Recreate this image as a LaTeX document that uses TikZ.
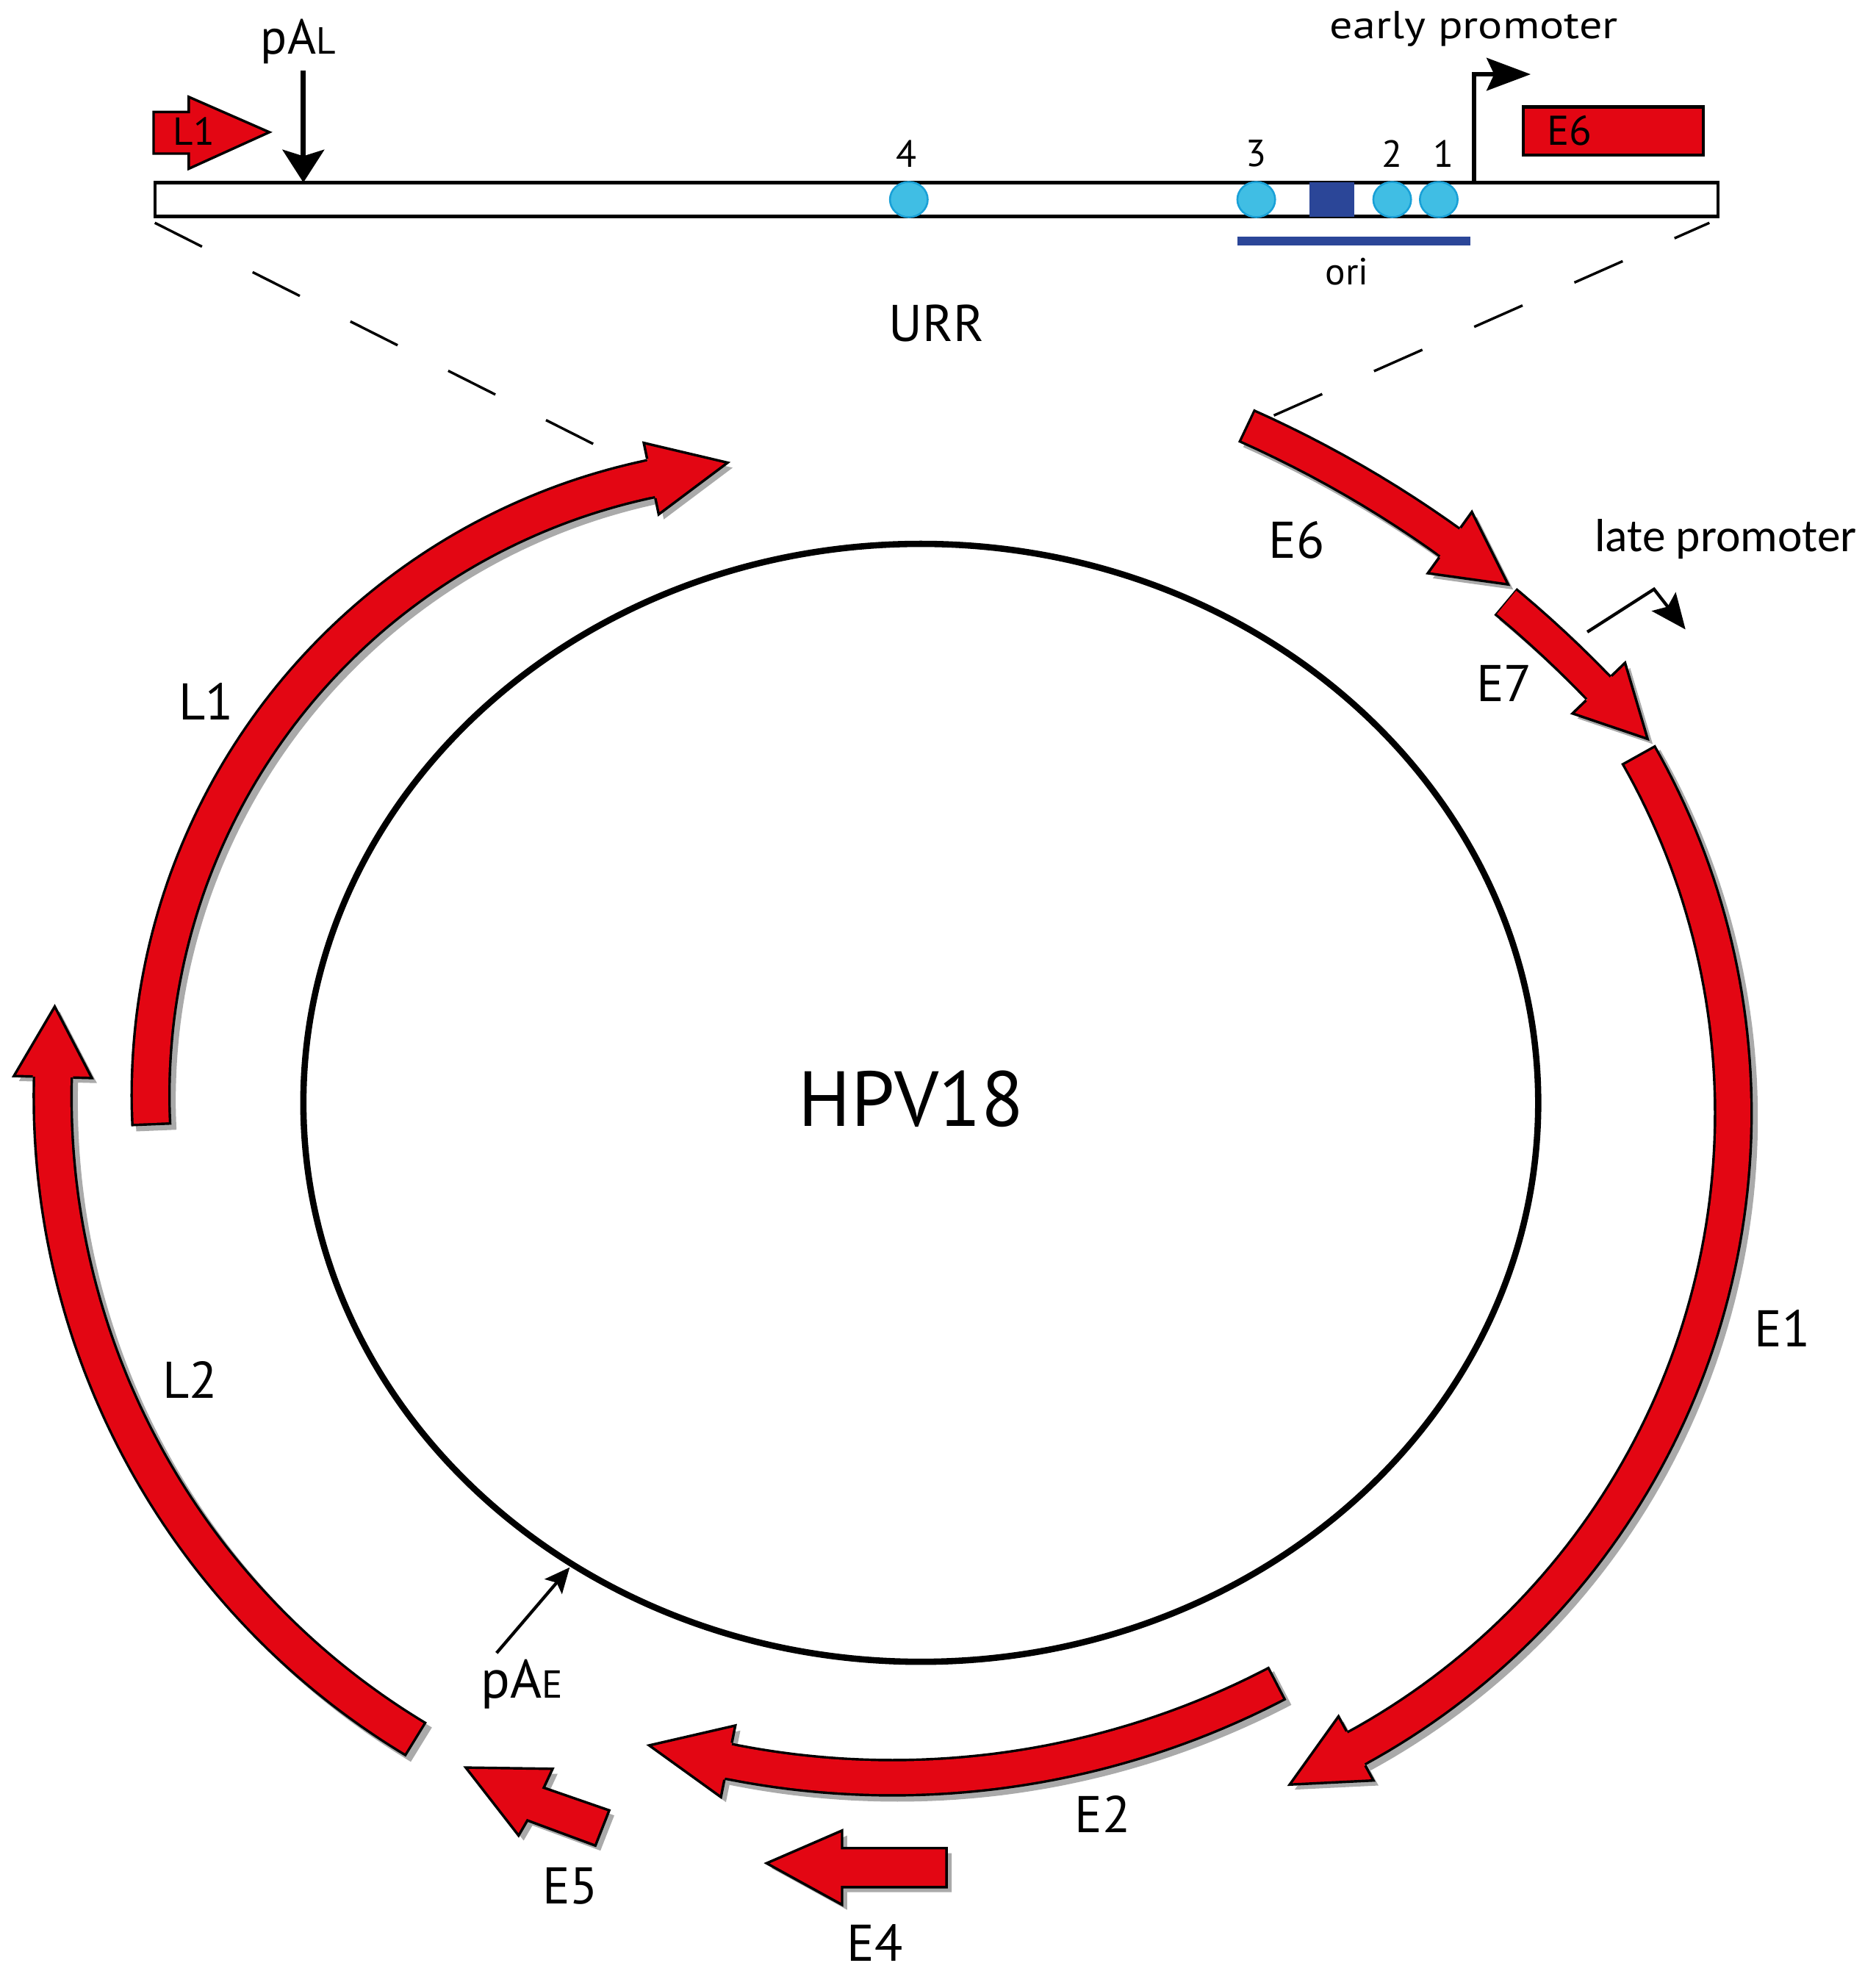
\documentclass[tikz,border=0pt]{standalone}
\usepackage{fontspec}
\setmainfont{PT Sans}
\newfontfamily\calfont{Carlito}
\usetikzlibrary{calc,arrows.meta,shapes.geometric}
\definecolor{gred}{RGB}{227,6,19}
\definecolor{lblue}{RGB}{64,190,228}
\definecolor{lbluedk}{RGB}{25,160,215}
\definecolor{dblue}{RGB}{43,70,152}
\definecolor{shad}{RGB}{170,170,170}
\newcommand\gfs[1]{\fontsize{#1}{#1}\selectfont}
% curved ORF arrow on a circle arc (image coordinates, angles grow clockwise)
% #1 cx, #2 cy, #3 r, #4 tail angle, #5 neck angle, #6 shaft width, #7 head length, #8 head half width
\newcommand\garc[8]{%
  \pgfmathsetmacro\gnx{#1+#3*cos(#5)}%
  \pgfmathsetmacro\gny{#2+#3*sin(#5)}%
  \pgfmathsetmacro\gtx{\gnx-#7*sin(#5)}%
  \pgfmathsetmacro\gty{\gny+#7*cos(#5)}%
  \pgfmathsetmacro\gwi{#6-4}%
  \pgfmathsetmacro\gsh{#6/2}%
  \pgfmathsetmacro\gsi{#6/2-2}%
  \coordinate (gN) at (\gnx,\gny);
  \coordinate (gT) at (\gtx,\gty);
  \coordinate (gB1) at ($(gN)!#8pt!90:(gT)$);
  \coordinate (gB2) at ($(gN)!#8pt!-90:(gT)$);
  \coordinate (gS1) at ($(gN)!\gsh pt!90:(gT)$);
  \coordinate (gS2) at ($(gN)!\gsh pt!-90:(gT)$);
  \coordinate (gJ1) at ($(gN)!\gsi pt!90:(gT)$);
  \coordinate (gJ2) at ($(gN)!\gsi pt!-90:(gT)$);
  \coordinate (gNb) at ($(gN)!-3pt!(gT)$);
  \coordinate (gI1) at ($(gNb)!\gsi pt!90:(gN)$);
  \coordinate (gI2) at ($(gNb)!\gsi pt!-90:(gN)$);
  \draw[shad, line width=#6pt, xshift=4pt, yshift=-4pt] plot[domain=#4:#5, samples=90] ({#1+#3*cos(\x)},{#2+#3*sin(\x)});
  \fill[shad] ($(gS1)+(4,4)$) -- ($(gB1)+(4,4)$) -- ($(gT)+(4,4)$) -- ($(gB2)+(4,4)$) -- ($(gS2)+(4,4)$) -- cycle;
  \draw[black, line width=#6pt] plot[domain=#4:#5, samples=90] ({#1+#3*cos(\x)},{#2+#3*sin(\x)});
  \draw[gred, line width=\gwi pt, shorten <=2pt] plot[domain=#4:#5, samples=90] ({#1+#3*cos(\x)},{#2+#3*sin(\x)});
  \fill[gred] (gI1) -- (gJ1) -- (gB1) -- (gT) -- (gB2) -- (gJ2) -- (gI2) -- cycle;
  \draw[black, line width=2pt, line join=miter] (gS1) -- (gB1) -- (gT) -- (gB2) -- (gS2);
}
\tikzset{
  lbl/.style={inner sep=0pt, font=\gfs{41}},
  numlbl/.style={inner sep=0pt, font=\gfs{30}},
  bsite/.style={ellipse, fill=lblue, draw=lbluedk, line width=1.5pt, minimum width=30pt, minimum height=28pt, inner sep=0pt},
  dashline/.style={line width=2pt, dash pattern=on 42pt off 45pt},
  thinarrow/.style={line width=2.5pt},
  redpoly/.style={fill=gred, draw=black, line width=2pt, line join=miter},
  shadpoly/.style={fill=shad},
}
\begin{document}
\begin{tikzpicture}[x=1pt, y=-1pt]
\useasboundingbox (0,0) rectangle (1490,1568);

% ---------- top URR bar ----------
\node[draw, line width=2.5pt, fill=white, minimum width=1242pt, minimum height=27pt, inner sep=0pt, outer sep=0pt] (bar) at (744,158.5) {};
\node[bsite] (b4) at (722,158.5) {};
\node[bsite] (b3) at (998,158.5) {};
\node[bsite] (b2) at (1106,158.5) {};
\node[bsite] (b1) at (1143,158.5) {};
\node[fill=dblue, minimum width=36pt, minimum height=27pt, inner sep=0pt] (sq) at (1058,158.5) {};
\node[numlbl] (n4) at (720,122) {4};
\node[numlbl] (n3) at (998,122) {3};
\node[numlbl] (n2) at (1106,122) {2};
\node[numlbl] (n1) at (1147,122) {1};
\coordinate (ori1) at (983,191.5);
\coordinate (ori2) at (1168,191.5);
\draw[dblue, line width=7pt] (ori1) -- (ori2);
\node[anchor=base, inner sep=0pt, font=\gfs{30}] (ori) at (1070,226) {ori};
\node[lbl] (urr) at (744,257) {URR};

% small L1 arrow and pAL
\draw[redpoly] (122,89) -- (150,89) -- (150,77) -- (214,105) -- (150,134) -- (150,122) -- (122,122) -- cycle;
\node[inner sep=0pt, font=\gfs{31}] (l1s) at (154,104) {L1};
\node[anchor=base west, inner sep=0pt] (pal) at (207,43) {\gfs{39}pA{\gfs{30}L}};
\coordinate (palS) at (241,56);
\coordinate (palT) at (241,145);
\draw[line width=4pt, -{Stealth[length=26pt,width=33pt,inset=5pt]}] (palS) -- (palT);

% early promoter
\node[inner sep=0pt] (ep) at (1171,23) {\gfs{31}\scalebox{1.17}[1]{early promoter}};
\coordinate (epS) at (1171,145);
\coordinate (epT) at (1216,59);
\draw[line width=3pt, -{Stealth[length=35pt,width=26pt,inset=6pt]}] (epS) |- (epT);
\node[draw, line width=2.5pt, fill=gred, minimum width=143pt, minimum height=38pt, inner sep=0pt] (e6box) at (1281.5,104) {};
\node[anchor=west, inner sep=0pt, font=\gfs{33}] (e6t) at (1229,104) {E6};

% dashed projection lines
\coordinate (dl1) at (123,177);
\coordinate (dl2) at (478,356);
\coordinate (dr1) at (1012,330);
\coordinate (dr2) at (1358,177);
\draw[dashline] (dl1) -- (dl2);
\draw[dashline] (dr1) -- (dr2);

% ---------- genome circle ----------
\draw[line width=5pt] (731.5,876) ellipse [x radius=490.5pt, y radius=444pt];
\coordinate (hc) at (724,873);
\node[inner sep=0pt, font=\gfs{62}] (hpv) at (hc) {HPV18};

% ---------- ORF arrows ----------
% E6
\garc{617.3}{1174.8}{916}{-66.0}{-54.3}{29}{57}{30}
% E7
\garc{617.3}{1174.8}{906}{-50.3}{-43.9}{28}{56}{29}
% E1
\garc{802}{884}{575}{-29.7}{61.4}{31}{60}{29}
% E2
\garc{709}{751.6}{660.5}{62.4}{101.4}{30}{64}{29}
% E4
\fill[shadpoly] (756,1472) -- (756,1503) -- (673,1503) -- (673,1517) -- (613,1484) -- (673,1458) -- (673,1472) -- cycle;
\draw[redpoly] (752,1468) -- (752,1499) -- (669,1499) -- (669,1513) -- (609,1480) -- (669,1454) -- (669,1468) -- cycle;
% E5
\fill[shadpoly] (488,1442) -- (477,1470) -- (423,1450) -- (416,1462) -- (374,1408) -- (443,1409) -- (436,1424) -- cycle;
\draw[redpoly] (484,1438) -- (473,1466) -- (419,1446) -- (412,1458) -- (370,1404) -- (439,1405) -- (432,1420) -- cycle;
% L2
\garc{637.6}{871.1}{595.8}{121.0}{181.5}{32}{56}{31}
% L1
\garc{619.6}{869.6}{500}{177.2}{258.2}{32}{62}{29}

% ---------- labels ----------
\node[lbl] (le6) at (1030,429) {E6};
\node[lbl] (le7) at (1195,543) {E7};
\node[lbl] (le1) at (1416,1055) {E1};
\node[lbl] (le2) at (876,1441) {E2};
\node[lbl] (le4) at (695,1543) {E4};
\node[lbl] (le5) at (453,1498) {E5};
\node[lbl] (ll1) at (164,557) {L1};
\node[lbl] (ll2) at (151,1096) {L2};

% late promoter
\node[inner sep=0pt] (lp) at (1371,428) {\calfont\gfs{37}late promoter};
\coordinate (lp1) at (1261,502);
\coordinate (lp2) at (1314,468);
\coordinate (lp3) at (1339,500);
\draw[thinarrow, -{Stealth[length=28pt,width=24pt,inset=5pt]}] (lp1) -- (lp2) -- (lp3);

% pAE
\node[anchor=base west, inner sep=0pt] (pae) at (382,1349) {\gfs{43}pA{\gfs{31}E}};
\coordinate (pae1) at (394.5,1313);
\coordinate (pae2) at (452.6,1245);
\draw[thinarrow, -{Stealth[length=20pt,width=18pt,inset=4pt]}] (pae1) -- (pae2);
\end{tikzpicture}
\end{document}
